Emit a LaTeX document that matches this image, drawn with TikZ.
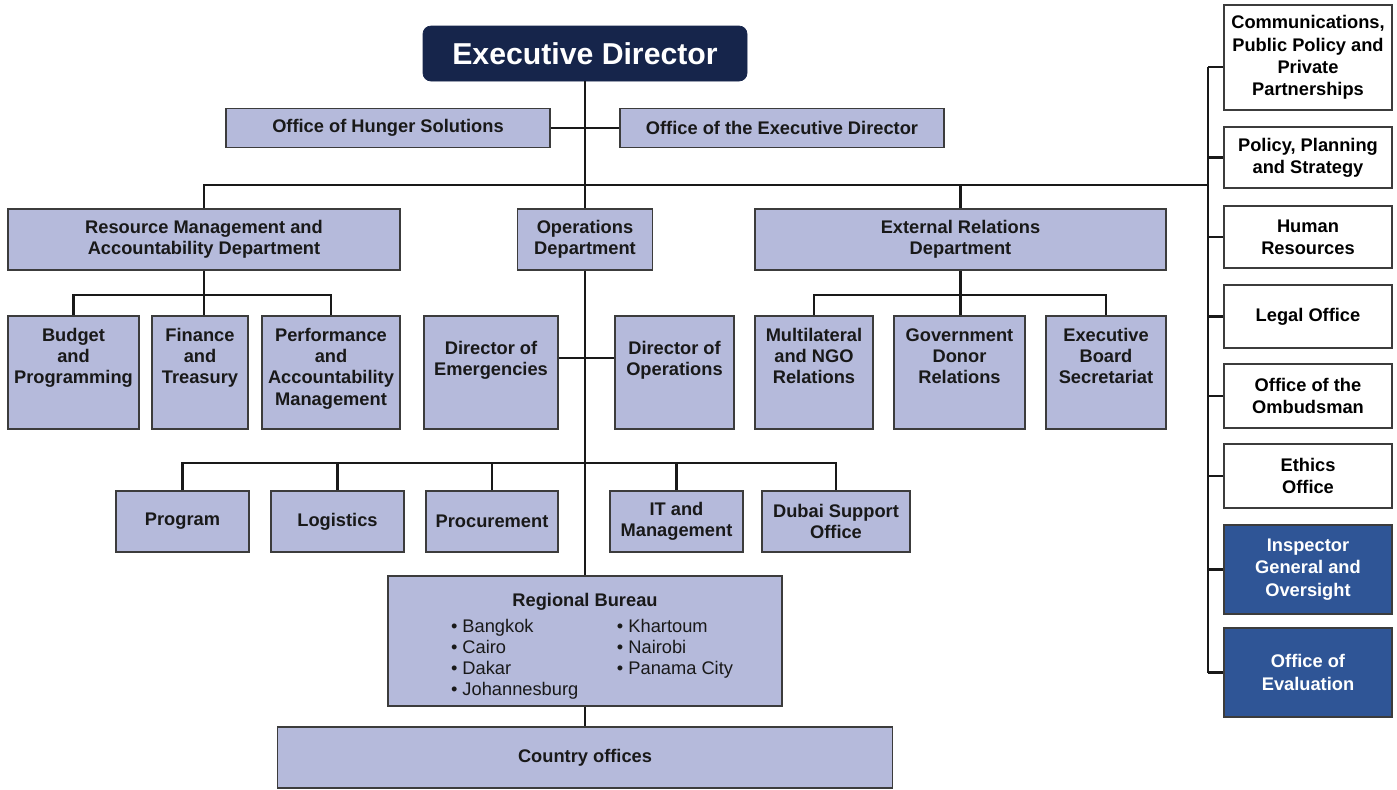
\documentclass[tikz,border=0pt]{standalone}
\usepackage{fontspec}
\setmainfont{Liberation Sans}
\usetikzlibrary{positioning}
\definecolor{lavfill}{RGB}{181,186,219}
\definecolor{navyfill}{RGB}{22,37,75}
\definecolor{bluefill}{RGB}{47,85,150}
\definecolor{edgegray}{RGB}{60,60,60}
\newcommand{\unitcol}{lavfill}
\newcommand{\sidecol}{white}
\newcommand{\auditcol}{bluefill}

\begin{document}
\begin{tikzpicture}[x=0.02cm, y=-0.02cm,
    sz/.style 2 args={minimum width=#1*0.02cm, minimum height=#2*0.02cm},
    unit/.style={draw=edgegray, line width=0.9pt, fill=\unitcol, text=black!90,
      align=center, inner sep=0pt, font=\fontsize{10.4}{12}\selectfont\bfseries},
    boxtext/.style={anchor=north, align=center, inner sep=0pt, text=black!90,
      font=\fontsize{10.4}{12}\selectfont\bfseries},
    side/.style={unit, fill=\sidecol, text=black, minimum width=3.36cm,
      font=\fontsize{10.4}{12.7}\selectfont\bfseries},
    audit/.style={side, fill=\auditcol, text=white},
    chief/.style={fill=navyfill, draw=navyfill, rounded corners=0.16cm, text=white,
      inner sep=0pt, font=\fontsize{17.2}{20}\selectfont\bfseries},
    link/.style={line width=1.4pt, black!90}]

    \useasboundingbox (0,0) rectangle (1397,789);

    \node[chief, sz={324}{55}] (ed) at (585,53.5) {Executive Director};

    \node[unit, sz={324}{39}] (ohs) at (388,128) {Office of Hunger Solutions};
    \node[unit, sz={324}{39}] (oed) at (782,128) {Office of the Executive Director};

    \node[unit, sz={392}{61}] (rmad) at (204,239.5) {Resource Management and\\Accountability Department};
    \node[unit, sz={135}{61}] (opsd) at (585,239.5) {Operations\\Department};
    \node[unit, sz={411}{61}] (erd) at (960.5,239.5) {External Relations\\Department};

    \node[unit, sz={131}{113}] (bud) at (73.5,372.5) {};
    \node[unit, sz={96}{113}] (fin) at (200,372.5) {};
    \node[unit, sz={138}{113}] (perf) at (331,372.5) {};
    \node[unit, sz={134}{113}] (doe) at (491,372.5) {};
    \node[unit, sz={119}{113}] (doo) at (674.5,372.5) {};
    \node[unit, sz={118}{113}] (mul) at (814,372.5) {};
    \node[unit, sz={131}{113}] (gov) at (959.5,372.5) {};
    \node[unit, sz={120}{113}] (ebs) at (1106,372.5) {};

    \node[boxtext, yshift=-0.26cm] (budt) at (bud.north) {Budget\\and\\Programming};
    \node[boxtext, yshift=-0.26cm] (fint) at (fin.north) {Finance\\and\\Treasury};
    \node[boxtext, yshift=-0.26cm] (perft) at (perf.north) {Performance\\and\\Accountability\\Management};
    \node[boxtext, yshift=-0.52cm] (doet) at (doe.north) {Director of\\Emergencies};
    \node[boxtext, yshift=-0.52cm] (doot) at (doo.north) {Director of\\Operations};
    \node[boxtext, yshift=-0.26cm] (mult) at (mul.north) {Multilateral\\and NGO\\Relations};
    \node[boxtext, yshift=-0.26cm] (govt) at (gov.north) {Government\\Donor\\Relations};
    \node[boxtext, yshift=-0.26cm] (ebst) at (ebs.north) {Executive\\Board\\Secretariat};

    \node[unit, sz={133}{61}] (prog) at (182.5,521.5) {Program};
    \node[unit, sz={133}{61}] (log) at (337.5,521.5) {Logistics};
    \node[unit, sz={132}{61}] (proc) at (492,521.5) {Procurement};
    \node[unit, sz={133}{61}] (itm) at (676.5,521.5) {IT and\\Management};
    \node[unit, sz={148}{61}] (dso) at (836,521.5) {Dubai Support\\Office};

    \node[unit, sz={394}{130}] (rb) at (585,641) {%
      \begin{tabular}{@{}c@{}}
        \rule{0pt}{15pt}Regional Bureau\\[3pt]
        \mdseries
        \begin{tabular}[t]{@{\hspace{8pt}}l@{\hspace{22pt}}l@{}}
          • Bangkok & • Khartoum\\
          • Cairo & • Nairobi\\
          • Dakar & • Panama City\\
          • Johannesburg &
        \end{tabular}
      \end{tabular}};
    \node[unit, sz={615}{61}] (co) at (585,757.5) {Country offices};

    \node[side, minimum height=2.1cm] (cpp) at (1308,57.5) {Communications,\\Public Policy and\\Private\\Partnerships};
    \node[side, minimum height=1.22cm] (pps) at (1308,157.5) {Policy, Planning\\and Strategy};
    \node[side, minimum height=1.24cm] (hr) at (1308,237) {Human\\Resources};
    \node[side, minimum height=1.26cm] (lo) at (1308,316.5) {Legal Office};
    \node[side, minimum height=1.28cm] (omb) at (1308,396) {Office of the\\Ombudsman};
    \node[side, minimum height=1.28cm] (eth) at (1308,476) {Ethics\\Office};
    \node[audit, minimum height=1.78cm] (igo) at (1308,569.5) {Inspector\\General and\\Oversight};
    \node[audit, minimum height=1.78cm] (eva) at (1308,672.5) {Office of\\Evaluation};

    \coordinate (rail) at (1208,185);
    \coordinate (railtop) at (1208,67);
    \coordinate (rmbar) at (204,295);
    \coordinate (erbar) at (960,295);
    \coordinate (dbar) at (585,358);
    \coordinate (sbar) at (585,463);

    \draw[link] (ed.south) -- (opsd.north);
    \draw[link] (opsd.south) -- (rb.north);
    \draw[link] (rb.south) -- (co.north);
    \draw[link] (ohs.east) -- (oed.west);

    \draw[link] (rmad.north) |- (rail);
    \draw[link] (erd.north) -- (erd.north |- rail);

    \draw[link] (rmad.south) -- (rmad.south |- fin.north);
    \draw[link] (bud.north) |- (rmbar) -| (perf.north);
    \draw[link] (erd.south) -- (erd.south |- gov.north);
    \draw[link] (mul.north) |- (erbar) -| (ebs.north);
    \draw[link] (doe.east |- dbar) -- (doo.west |- dbar);
    \draw[link] (prog.north) |- (sbar) -| (dso.north);
    \foreach \n in {log,proc,itm}
      \draw[link] (\n.north) -- (\n.north |- sbar);

    \draw[link] (railtop) -- (rail |- eva.west);
    \draw[link] (railtop) -- (railtop -| cpp.west);
    \foreach \n in {pps,hr,lo,omb,eth,igo,eva}
      \draw[link] (\n.west) -- (\n.west -| rail);

  \end{tikzpicture}
\end{document}
